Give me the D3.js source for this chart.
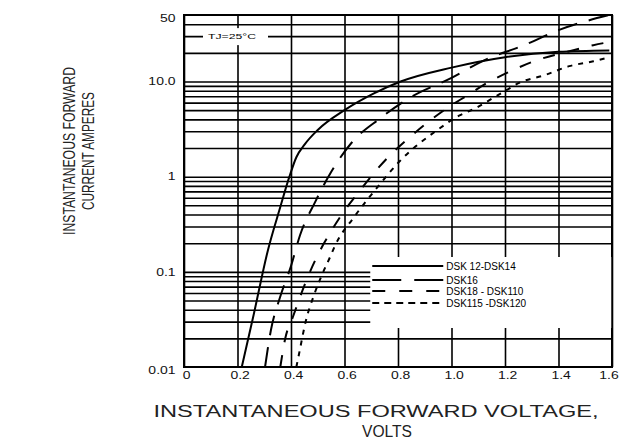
<!DOCTYPE html>
<html>
<head>
<meta charset="utf-8">
<script src="https://cdn.jsdelivr.net/npm/d3@7"></script>
<style>
  body { margin: 0; background: #fff; }
  svg { display: block; }
  .grid line { stroke: #000; stroke-width: 1.6; }
  .grid path { display: none; }
  .axis path { display: none; }
  .axis text { font-family: "Liberation Sans", Arial, sans-serif; font-size: 10px; fill: #111; }
  .title { font-family: "Liberation Sans Narrow", "Liberation Sans", Arial, sans-serif; fill: #222; }
  .legend text { font-family: "Liberation Sans", Arial, sans-serif; font-size: 10px; fill: #000; }
</style>
</head>
<body>
<div id="chart-container"></div>
<script>
// tick labels
var xTicks = [0, 0.2, 0.4, 0.6, 0.8, 1.0, 1.2, 1.4, 1.6]
var xTickLabels = ['0', '0.2', '0.4', '0.6', '0.8', '1.0', '1.2', '1.4', '1.6']
var yTicks = [0.01, 0.1, 1, 10, 50]
var yTickLabels = ['0.01', '0.1', '1', '10.0', '50']
var yGrid = [0.02, 0.03, 0.04, 0.05, 0.06, 0.07, 0.08, 0.09, 0.1,
  0.2, 0.3, 0.4, 0.5, 0.6, 0.7, 0.8, 0.9, 1,
  2, 3, 4, 5, 6, 7, 8, 9, 10,
  20, 30, 40]

// series: [volts, amperes]
var dsk12_14 = [[0.216, 0.01], [0.26, 0.035], [0.314, 0.17], [0.36, 0.48], [0.394, 1.0],
  [0.42, 1.6], [0.452, 2.2], [0.50, 3.1], [0.60, 5.0], [0.71, 7.5], [0.81, 10],
  [1.0, 14], [1.2, 18], [1.4, 20.5], [1.59, 21.2]]
var dsk16 = [[0.303, 0.01], [0.325, 0.0245], [0.359, 0.054], [0.40, 0.115], [0.434, 0.244],
  [0.49, 0.54], [0.55, 1.12], [0.628, 2.3], [0.733, 4.1], [0.85, 6.9], [1.0, 10.9],
  [1.12, 16.6], [1.27, 24], [1.40, 34.7], [1.59, 50]]
var dsk18_110 = [[0.36, 0.01], [0.378, 0.0197], [0.407, 0.0335], [0.464, 0.09], [0.50, 0.15],
  [0.546, 0.256], [0.59, 0.40], [0.65, 0.67], [0.70, 1.01], [0.76, 1.57], [0.83, 2.4],
  [0.99, 5.4], [1.05, 6.9], [1.14, 9.9], [1.23, 13.2], [1.32, 16.8], [1.43, 20.4],
  [1.53, 24.1], [1.59, 26]]
var dsk115_120 = [[0.42, 0.01], [0.43, 0.0137], [0.456, 0.031], [0.482, 0.053], [0.512, 0.088],
  [0.546, 0.143], [0.564, 0.187], [0.636, 0.377], [0.714, 0.72], [0.807, 1.46], [0.946, 3.08],
  [1.03, 4.4], [1.09, 5.25], [1.155, 6.7], [1.205, 8.1], [1.25, 9.6], [1.35, 11.7],
  [1.44, 14.5], [1.53, 16.3], [1.59, 18]]

var seriesList = [dsk12_14, dsk16, dsk18_110, dsk115_120]
var legendLabels = ['DSK 12-DSK14', 'DSK16', 'DSK18 - DSK110', 'DSK115 -DSK120']
var curveDash = [null, '20,12', '12,13', '5,6']
var legendDash = [null, '29,13', '13,14', '7,5']

var margin = {top: 15, right: 8, bottom: 80, left: 184}
var width = 620 - margin.left - margin.right
var height = 447 - margin.top - margin.bottom

var xScale = d3.scaleLinear()
  .domain([0, 1.6])
  .range([0, width])

var yScale = d3.scaleLog()
  .domain([0.01, 50])
  .range([height, 0])

var root = d3.select('#chart-container')
  .append('svg')
  .attr('width', 620)
  .attr('height', 447)

var svg = root.append('g')
  .attr('transform', 'translate(' + margin.left + ', ' + margin.top + ')')

/* grid */
svg.append('g')
  .attr('class', 'grid')
  .attr('transform', 'translate(0, ' + height + ')')
  .call(d3.axisBottom(xScale).tickValues(xTicks).tickSize(-height).tickFormat(''))

svg.append('g')
  .attr('class', 'grid')
  .call(d3.axisLeft(yScale).tickValues(yGrid).tickSize(-width).tickFormat(''))

svg.append('rect')
  .attr('width', width)
  .attr('height', height)
  .attr('fill', 'none')
  .attr('stroke', '#000')
  .attr('stroke-width', 2)

/* TJ note */
svg.append('rect')
  .attr('x', 19).attr('y', yScale(30) - 8)
  .attr('width', 65).attr('height', 17)
  .attr('fill', '#fff')
svg.append('text')
  .attr('x', 24).attr('y', yScale(30) + 3)
  .attr('textLength', 48)
  .attr('lengthAdjust', 'spacingAndGlyphs')
  .style('font-family', '"Liberation Sans", Arial, sans-serif')
  .style('font-size', '8px')
  .text('TJ=25°C')

/* legend box */
var legend = svg.append('g')
  .attr('class', 'legend')
  .attr('transform', 'translate(' + (xScale(0.7) - 1) + ', 242)')

legend.append('rect')
  .attr('width', 241)
  .attr('height', 71)
  .attr('fill', '#fff')

legendLabels.forEach(function(label, i) {
  var ly = [9, 23, 34, 46][i]
  legend.append('line')
    .attr('x1', 2).attr('x2', 73)
    .attr('y1', ly).attr('y2', ly)
    .attr('stroke', '#000')
    .attr('stroke-width', 1.8)
    .attr('stroke-dasharray', legendDash[i])
  legend.append('text')
    .attr('x', 76).attr('y', ly + 4)
    .text(label)
})

/* curves */
var line = d3.line()
  .curve(d3.curveMonotoneX)
  .x(function(d) { return xScale(d[0]) })
  .y(function(d) { return yScale(d[1]) })

seriesList.forEach(function(s, i) {
  svg.append('path')
    .datum(s)
    .attr('fill', 'none')
    .attr('stroke', '#000')
    .attr('stroke-width', 2)
    .attr('stroke-dasharray', curveDash[i])
    .attr('d', line)
})

/* x axis labels */
var xAxis = svg.append('g')
  .attr('class', 'axis')
  .attr('transform', 'translate(0, ' + height + ')')
  .call(d3.axisBottom(xScale).tickValues(xTicks)
    .tickFormat(function(d, i) { return xTickLabels[i] })
    .tickSize(0).tickPadding(5))
xAxis.selectAll('text')
  .attr('dx', function(d, i) { return i === xTicks.length - 1 ? -2.5 : 1.5 })
  .attr('transform', 'scale(1.4,1)')

/* y axis labels */
var yNudge = [3, 0, 0, 0, 3]
var yAxis = svg.append('g')
  .attr('class', 'axis')
  .call(d3.axisLeft(yScale).tickValues(yTicks)
    .tickFormat(function(d, i) { return yTickLabels[i] })
    .tickSize(0).tickPadding(6))
yAxis.selectAll('text')
  .attr('transform', function(d, i) { return 'translate(0,' + yNudge[i] + ') scale(1.4,1)' })

/* titles */
root.append('text')
  .attr('class', 'title')
  .attr('transform', 'translate(75, 151) rotate(-90)')
  .attr('text-anchor', 'middle')
  .attr('textLength', 168)
  .attr('lengthAdjust', 'spacingAndGlyphs')
  .style('font-size', '16px')
  .text('INSTANTANEOUS FORWARD')

root.append('text')
  .attr('class', 'title')
  .attr('transform', 'translate(94, 151) rotate(-90)')
  .attr('text-anchor', 'middle')
  .attr('textLength', 118)
  .attr('lengthAdjust', 'spacingAndGlyphs')
  .style('font-size', '16px')
  .text('CURRENT AMPERES')

root.append('text')
  .attr('class', 'title')
  .attr('x', 376).attr('y', 417)
  .attr('text-anchor', 'middle')
  .attr('textLength', 445)
  .attr('lengthAdjust', 'spacingAndGlyphs')
  .style('font-family', '"Liberation Sans", Arial, sans-serif')
  .style('font-size', '16px')
  .text('INSTANTANEOUS FORWARD VOLTAGE,')

root.append('text')
  .attr('class', 'title')
  .attr('x', 387).attr('y', 437)
  .attr('text-anchor', 'middle')
  .attr('textLength', 50)
  .attr('lengthAdjust', 'spacingAndGlyphs')
  .style('font-family', '"Liberation Sans", Arial, sans-serif')
  .style('font-size', '16px')
  .text('VOLTS')
</script>
</body>
</html>
